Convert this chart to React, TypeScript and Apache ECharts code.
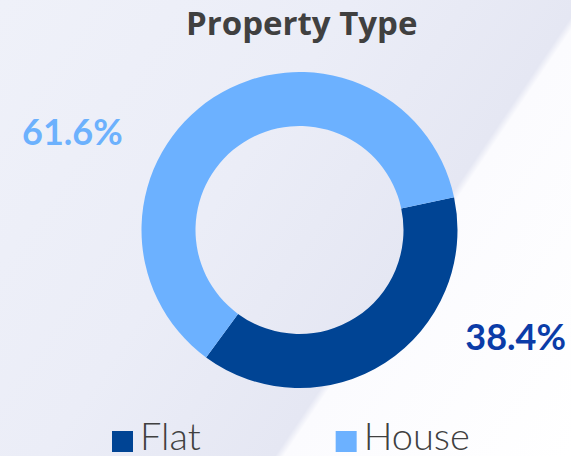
import React, { useEffect, useRef } from "react";
import * as echarts from "echarts";

const titleText = "Property Type";
const categories = ["Flat", "House"];
const shares = [38.4, 61.6];
const sliceColors = ["#004494", "#6cb1ff"];
const labelColors = ["#0b3ca8", "#6cb1fd"];

export default function App() {
  const ref = useRef<HTMLDivElement>(null);

  useEffect(() => {
    if (!ref.current) return;
    const chart = echarts.init(ref.current, undefined, { renderer: "svg" });
    const labelSpots = [
      { x: 566, y: 336, align: "right" },
      { x: 22, y: 131, align: "left" },
    ];
    chart.setOption({
      animation: false,
      backgroundColor: "transparent",
      title: {
        text: titleText,
        left: 186,
        top: 6,
        padding: 0,
        textStyle: {
          fontFamily: "Open Sans",
          fontWeight: "bold",
          fontSize: 33,
          lineHeight: 33,
          color: "#404040",
        },
      },
      legend: {
        data: categories,
        left: 112,
        top: 415.5,
        padding: 0,
        icon: "rect",
        itemWidth: 21,
        itemHeight: 21,
        itemGap: 135,
        formatter: (name: string) => `{n|${name}}`,
        textStyle: {
          rich: {
            n: {
              fontFamily: "Lato",
              fontWeight: 300,
              fontSize: 38,
              lineHeight: 34,
              color: "#404040",
              padding: [0, 0, 14, 2],
            },
          },
        },
      },
      series: [
        {
          type: "pie",
          center: [299.5, 230],
          radius: [104, 158],
          startAngle: 12,
          clockwise: true,
          silent: true,
          data: categories.map((name, i) => ({
            name,
            value: shares[i],
            itemStyle: { color: sliceColors[i] },
            label: { color: labelColors[i] },
          })),
          label: {
            show: true,
            position: "outside",
            formatter: "{c}%",
            fontFamily: "Lato",
            fontWeight: "bold",
            fontSize: 36,
          },
          labelLine: { show: false },
          labelLayout: (params: any) => {
            const s = labelSpots[params.dataIndex];
            return { x: s.x, y: s.y, align: s.align, verticalAlign: "middle" };
          },
        },
      ],
    });
    return () => chart.dispose();
  }, []);

  return (
    <div
      style={{
        position: "fixed",
        left: 0,
        top: 0,
        width: 571,
        height: 456,
        background:
          "linear-gradient(124deg, #eff1f9 0%, #ebedf7 40%, #e5e7f3 66.3%, #fbfbfe 67.3%, #ffffff 100%)",
      }}
    >
      <div ref={ref} style={{ width: 571, height: 456 }} />
    </div>
  );
}
